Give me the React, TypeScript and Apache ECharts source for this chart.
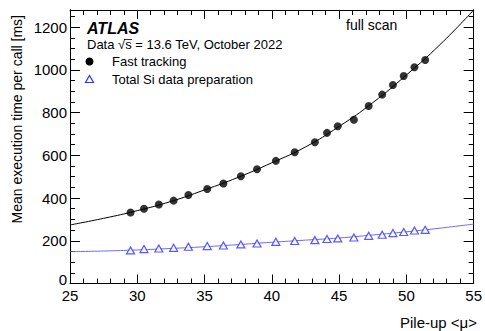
import React, { useEffect, useRef } from "react";
import * as echarts from "echarts";

// Pile-up <mu> of each measured run
const pileUp = [29.5, 30.5, 31.6, 32.7, 33.8, 35.2, 36.4, 37.7, 38.9, 40.3, 41.7, 43.2, 44.1, 44.9, 46.1, 47.2, 48.2, 49.0, 49.8, 50.6, 51.4];
// Mean execution time per call [ms]
const fastTracking = [332, 350, 370, 388, 414, 442, 468, 502, 535, 574, 614, 661, 705, 736, 766, 831, 884, 929, 971, 1012, 1046];
const siDataPrep = [155, 161, 164, 167, 172, 175, 178, 183, 187, 195, 199, 203, 208, 211, 215, 223, 228, 236, 241, 248, 251];

// Fitted curves, sampled along pile-up
const fitMu = [25, 27.5, 30, 32.5, 35, 37.5, 40, 42.5, 45, 47.5, 50, 52.5, 55];
const fastFit = [274, 305, 341, 384, 438, 497, 565, 639, 735, 846, 976, 1118, 1280];
const siFit = [149, 152, 157, 164, 172, 182, 193, 203, 213, 227, 242, 259, 278];

const xTicks = { min: 25, max: 55, step: 5 };
const yTicks = { min: 0, max: 1280, step: 200, minorStep: 50 };

const FONT = "'Liberation Sans', Arial, Helvetica, sans-serif";
const BLUE_MARK = "#2f2fff";
const BLUE_LINE = "#6a6aff";

export default function App() {
  const ref = useRef<HTMLDivElement>(null);

  useEffect(() => {
    if (!ref.current) return;
    const chart = echarts.init(ref.current, null, { renderer: "svg" });

    const zip = (xs: number[], ys: number[]) => xs.map((x, i) => [x, ys[i]]);

    const baseX = {
      type: "value" as const,
      min: xTicks.min,
      max: xTicks.max,
      interval: xTicks.step,
      axisLine: { show: true, onZero: false, lineStyle: { color: "#000", width: 1 } },
      splitLine: { show: false },
      axisTick: { show: true, inside: true, length: 9, lineStyle: { color: "#000" } },
      minorTick: { show: true, splitNumber: 5, length: 5, lineStyle: { color: "#000" } },
    };

    const baseY = (position: "left" | "right", major: boolean, labels: boolean) => ({
      type: "value" as const,
      position,
      min: yTicks.min,
      max: yTicks.max,
      interval: major ? yTicks.step : yTicks.minorStep,
      axisLine: { show: true, onZero: false, lineStyle: { color: "#000", width: 1 } },
      splitLine: { show: false },
      axisTick: { show: true, inside: true, length: major ? 10 : 5, lineStyle: { color: "#000" } },
      axisLabel: labels
        ? {
            show: true,
            color: "#000",
            fontFamily: FONT,
            fontSize: 15,
            margin: 3,
            showMinLabel: false,
            showMaxLabel: false,
            formatter: (v: number) => (v % yTicks.step === 0 ? String(v) : ""),
          }
        : { show: false },
    });

    chart.setOption({
      animation: false,
      backgroundColor: "#fff",
      grid: { left: 70, right: 10, top: 10, bottom: 47.5, containLabel: false },
      xAxis: [
        {
          ...baseX,
          position: "bottom",
          axisLabel: { show: true, color: "#000", fontFamily: FONT, fontSize: 15, margin: 4, formatter: (v: number) => String(v) },
        },
        { ...baseX, position: "top", axisLabel: { show: false } },
      ],
      yAxis: [
        baseY("left", true, true),
        baseY("left", false, false),
        baseY("right", true, false),
        baseY("right", false, false),
      ],
      series: [
        {
          type: "line",
          data: zip(fitMu, fastFit),
          smooth: true,
          showSymbol: false,
          lineStyle: { color: "#000", width: 1 },
          z: 2,
        },
        {
          type: "line",
          data: zip(fitMu, siFit),
          smooth: true,
          showSymbol: false,
          lineStyle: { color: BLUE_LINE, width: 1 },
          z: 2,
        },
        {
          type: "scatter",
          data: zip(pileUp, fastTracking),
          symbol: "circle",
          symbolSize: 8,
          itemStyle: { color: "#000" },
          z: 3,
        },
        {
          type: "scatter",
          data: zip(pileUp, siDataPrep),
          symbol: "triangle",
          symbolSize: [8, 7],
          itemStyle: { color: "#fff", borderColor: BLUE_MARK, borderWidth: 1.2 },
          z: 3,
        },
      ],
      graphic: [
        {
          // y-axis origin label, lifted clear of the first x label
          type: "text",
          x: 67,
          y: 287,
          style: { text: String(yTicks.min), font: `15px ${FONT}`, fill: "#000", align: "right", verticalAlign: "bottom" },
        },
        {
          type: "text",
          left: 87,
          top: 20,
          style: { text: "ATLAS", font: `italic bold 16px ${FONT}`, fill: "#000" },
        },
        {
          type: "text",
          left: 87,
          top: 38,
          style: { text: "Data √s = 13.6 TeV, October 2022", font: `13px ${FONT}`, fill: "#000" },
        },
        {
          type: "line",
          shape: { x1: 124, y1: 39.5, x2: 132, y2: 39.5 },
          style: { stroke: "#000", lineWidth: 0.8 },
        },
        {
          type: "circle",
          shape: { cx: 89.5, cy: 61.5, r: 4 },
          style: { fill: "#000" },
        },
        {
          type: "text",
          x: 112,
          y: 61.5,
          style: { text: "Fast tracking", font: `13px ${FONT}`, fill: "#000", verticalAlign: "middle" },
        },
        {
          type: "polygon",
          shape: { points: [[89.5, 75.5], [85.5, 82.5], [93.5, 82.5]] },
          style: { fill: "#fff", stroke: BLUE_MARK, lineWidth: 1.2 },
        },
        {
          type: "text",
          x: 112,
          y: 79,
          style: { text: "Total Si data preparation", font: `13px ${FONT}`, fill: "#000", verticalAlign: "middle" },
        },
        {
          type: "text",
          x: 346,
          y: 25,
          style: { text: "full scan", font: `14px ${FONT}`, fill: "#000", verticalAlign: "middle" },
        },
        {
          type: "text",
          x: 17,
          y: 15,
          rotation: Math.PI / 2,
          style: {
            text: "Mean execution time per call [ms]",
            font: `14px ${FONT}`,
            fill: "#000",
            align: "right",
            verticalAlign: "middle",
          },
        },
        {
          type: "text",
          x: 477,
          y: 322,
          style: { text: "Pile-up <μ>", font: `15px ${FONT}`, fill: "#000", align: "right", verticalAlign: "middle" },
        },
      ],
    });

    return () => chart.dispose();
  }, []);

  return (
    <div
      ref={ref}
      style={{ position: "fixed", left: 0, top: 0, width: 485, height: 331, background: "#fff" }}
    />
  );
}
